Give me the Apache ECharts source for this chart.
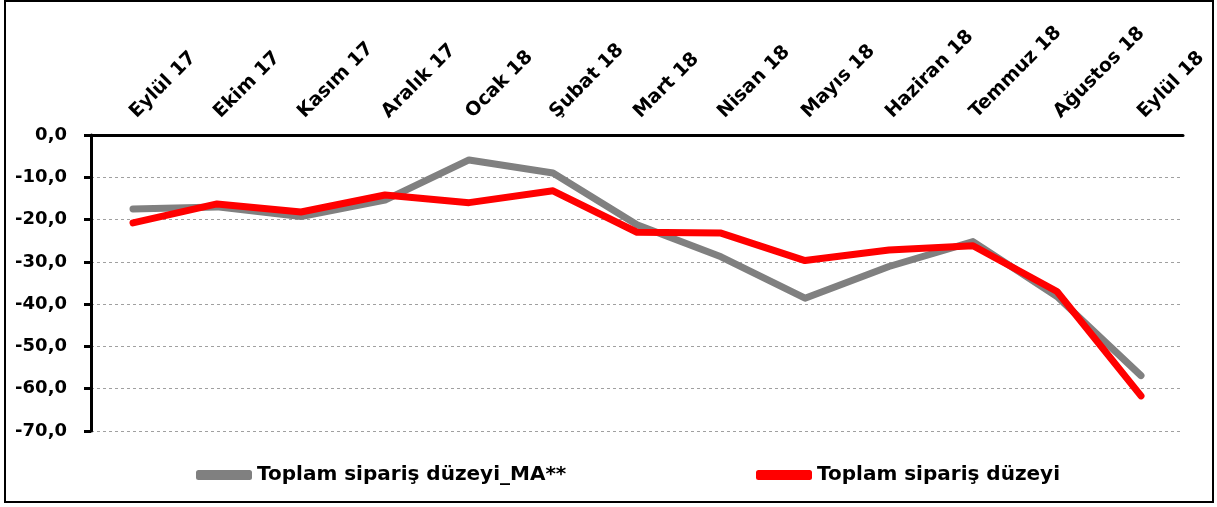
<!DOCTYPE html>
<html>
<head>
<meta charset="utf-8">
<script src="https://cdn.jsdelivr.net/npm/echarts@6/dist/echarts.min.js"></script>
<style>
  html, body { margin: 0; padding: 0; background: #fff; }
  #chart { width: 1217px; height: 507px; }
</style>
</head>
<body>
<div id="chart"></div>
<script>
const months = ['Eylül 17', 'Ekim 17', 'Kasım 17', 'Aralık 17', 'Ocak 18', 'Şubat 18', 'Mart 18',
  'Nisan 18', 'Mayıs 18', 'Haziran 18', 'Temmuz 18', 'Ağustos 18', 'Eylül 18'];
const maValues = [-17.5, -17.0, -19.3, -15.4, -5.9, -9.0, -21.2, -28.8, -38.6, -31.1, -25.2, -38.2, -56.9];
const levelValues = [-20.8, -16.3, -18.2, -14.2, -16.0, -13.2, -23.0, -23.2, -29.7, -27.2, -26.2, -37.0, -61.7];
const seriesNames = ['Toplam sipariş düzeyi_MA**', 'Toplam sipariş düzeyi'];

const font = '"DejaVu Sans", sans-serif';
const chart = echarts.init(document.getElementById('chart'));

const legendText = { fontFamily: font, fontWeight: 'bold', fontSize: 20, color: '#000' };

chart.setOption({
  animation: false,
  textStyle: { fontFamily: font },
  grid: { left: 91, right: 34, top: 135, bottom: 76 },
  legend: [
    {
      data: [seriesNames[0]], left: 191, top: 460,
      itemWidth: 56, itemHeight: 10, icon: 'roundRect', itemGap: 0,
      textStyle: legendText
    },
    {
      data: [seriesNames[1]], left: 751, top: 460,
      itemWidth: 56, itemHeight: 10, icon: 'roundRect', itemGap: 0,
      textStyle: legendText
    }
  ],
  graphic: [{
    type: 'rect',
    shape: { x: 5, y: 1, width: 1208, height: 501 },
    style: { fill: 'none', stroke: '#000', lineWidth: 2 },
    silent: true
  }],
  xAxis: {
    type: 'category',
    position: 'top',
    data: months,
    boundaryGap: true,
    axisLine: { lineStyle: { color: '#000', width: 3 } },
    axisTick: { inside: true, length: 8, lineStyle: { color: '#000', width: 3 } },
    axisLabel: {
      rotate: 45, margin: 20, interval: 0,
      color: '#000', fontFamily: font, fontWeight: 'bold', fontSize: 19
    },
    splitLine: { show: false }
  },
  yAxis: {
    type: 'value',
    min: -70, max: 0, interval: 10,
    axisLine: { show: true, lineStyle: { color: '#000', width: 3 } },
    axisTick: { show: true, length: 7, lineStyle: { color: '#000', width: 3 } },
    axisLabel: {
      color: '#000', fontFamily: font, fontWeight: 'bold', fontSize: 18, margin: 24,
      formatter: v => v.toFixed(1).replace('.', ',')
    },
    splitLine: { lineStyle: { color: '#a0a0a0', type: [3, 3], width: 1 } }
  },
  series: [
    {
      name: seriesNames[0], type: 'line', data: maValues,
      showSymbol: false, symbol: 'none',
      itemStyle: { color: '#808080' },
      lineStyle: { color: '#808080', width: 7, cap: 'round', join: 'round' }
    },
    {
      name: seriesNames[1], type: 'line', data: levelValues,
      showSymbol: false, symbol: 'none',
      itemStyle: { color: '#ff0000' },
      lineStyle: { color: '#ff0000', width: 7, cap: 'round', join: 'round' }
    }
  ]
});
</script>
</body>
</html>
